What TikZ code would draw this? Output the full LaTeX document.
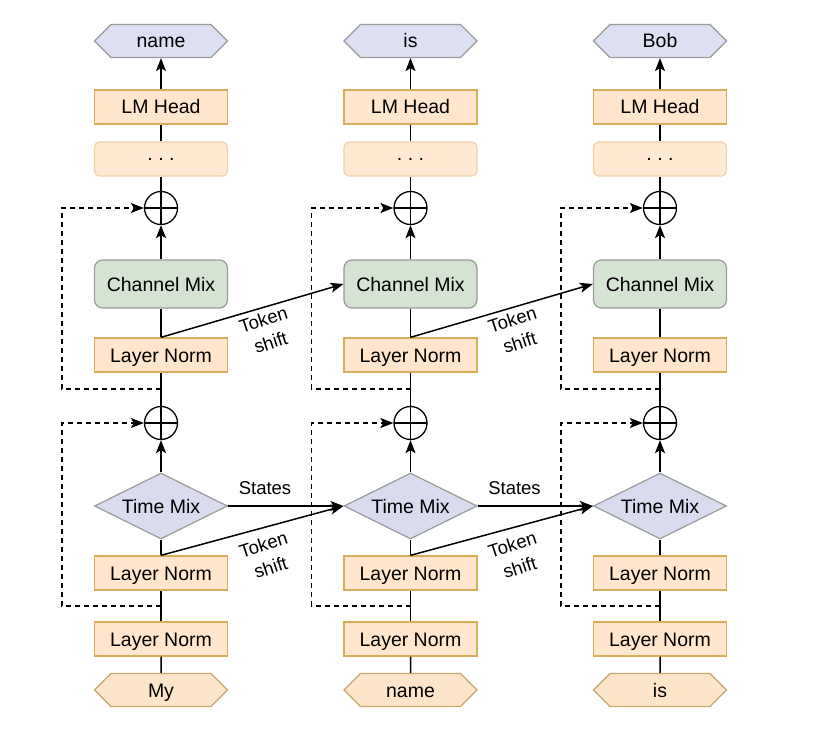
\documentclass[tikz,border=0pt]{standalone}
\usepackage{fontspec}
\setmainfont{Liberation Sans}
\usetikzlibrary{arrows.meta,shapes.geometric,shapes.symbols,calc}

\definecolor{lnfill}{HTML}{FFE6CC}
\definecolor{lnline}{HTML}{D8AE58}
\definecolor{dotfill}{HTML}{FFE9D2}
\definecolor{dotline}{HTML}{F0D2A4}
\definecolor{cmfill}{HTML}{D5E3D3}
\definecolor{tmfill}{HTML}{D9DCEE}
\definecolor{outfill}{HTML}{DDE0F3}
\definecolor{infill}{HTML}{FDE5CA}
\definecolor{shapeline}{HTML}{9A9A9A}

\tikzset{
  every node/.style={font=\fontsize{19.5pt}{22pt}\selectfont, inner sep=0pt,
    text height=17.5pt, text depth=3.5pt},
  lnbox/.style={draw=lnline, fill=lnfill, line width=1.3pt,
    minimum width=133pt, minimum height=34pt},
  dotbox/.style={draw=dotline, fill=dotfill, line width=1.2pt, rounded corners=5pt,
    minimum width=133pt, minimum height=34pt, text height=, text depth=},
  cmbox/.style={draw=shapeline, fill=cmfill, line width=1.2pt, rounded corners=8pt,
    minimum width=133pt, minimum height=48pt},
  tmbox/.style={diamond, aspect=2, draw=shapeline, fill=tmfill, line width=1.2pt,
    minimum width=133pt, minimum height=66pt},
  outhex/.style={signal, signal to=west and east, signal pointer angle=90,
    draw=shapeline, fill=outfill, line width=1.2pt,
    minimum width=133pt, minimum height=33pt},
  inhex/.style={outhex, fill=infill, draw=lnline!70!shapeline},
  plusnode/.style={circle, draw, line width=1.3pt, minimum size=33pt,
    text height=, text depth=,
    path picture={
      \draw[line width=1.3pt] (path picture bounding box.north) -- (path picture bounding box.south);
      \draw[line width=1.3pt] (path picture bounding box.west) -- (path picture bounding box.east);}},
  lbl/.style={font=\fontsize{18.5pt}{24pt}\selectfont, align=center,
    text height=, text depth=},
  link/.style={line width=1.5pt},
  flow/.style={line width=1.5pt, -{Stealth[length=13pt,width=10pt,inset=3pt]}},
  res/.style={line width=1.4pt, dash pattern=on 5pt off 4pt,
    -{Stealth[length=13pt,width=10pt,inset=3pt]}},
}

\begin{document}
\begin{tikzpicture}[x=1pt, y=-1pt]
  \useasboundingbox (0,0) rectangle (819,738);

  % one RWKV column per token
  \foreach \i/\x/\inw/\outw in {1/161/My/name, 2/410.5/name/is, 3/660/is/Bob} {
    \node[inhex]  (in\i)  at (\x,690) {\inw};
    \node[lnbox]  (lna\i) at (\x,639) {Layer Norm};
    \coordinate   (ra\i)  at (\x,606);
    \node[lnbox]  (lnb\i) at (\x,573) {Layer Norm};
    \node[tmbox]  (tm\i)  at (\x,506) {Time Mix};
    \node[plusnode] (pa\i) at (\x,423) {};
    \coordinate   (rb\i)  at (\x,389);
    \node[lnbox]  (lnc\i) at (\x,355) {Layer Norm};
    \node[cmbox]  (cm\i)  at (\x,284) {Channel Mix};
    \node[plusnode] (pb\i) at (\x,208) {};
    \node[dotbox] (dt\i)  at (\x,159) {.\ .\ .};
    \node[lnbox]  (lm\i)  at (\x,107) {LM Head};
    \node[outhex] (out\i) at (\x,41)  {\outw};

    \coordinate (la\i) at (\x-99,500);
    \coordinate (lb\i) at (\x-99,300);

    % main data path
    \draw[link] (in\i) -- (lna\i);
    \draw[link] (lna\i) -- (lnb\i);
    \draw[link] (lnb\i) -- (tm\i);
    \draw[flow] (tm\i) -- (pa\i);
    \draw[link] (pa\i) -- (lnc\i);
    \draw[link] (lnc\i) -- (cm\i);
    \draw[flow] (cm\i) -- (pb\i);
    \draw[link] (pb\i) -- (dt\i);
    \draw[link] (dt\i) -- (lm\i);
    \draw[flow] (lm\i) -- (out\i);

    % residual connections
    \draw[res] (ra\i) -| (la\i) |- (pa\i.west);
    \draw[res] (rb\i) -| (lb\i) |- (pb\i.west);
  }

  % recurrent links between neighbouring tokens
  \foreach \i/\j in {1/2, 2/3} {
    \draw[flow] (tm\i.east) -- (tm\j.west);
    \draw[flow] (lnb\i.north) -- (tm\j.west);
    \draw[flow] (lnc\i.north) -- (cm\j.west);
    \node[lbl] (st\i) at ($(tm\i.east)!0.32!(tm\j.west) + (0,-18)$) {States};
  }
  \node[lbl, rotate=18] (tsa1) at (267,331) {Token\\shift};
  \node[lbl, rotate=18] (tsa2) at (516,331) {Token\\shift};
  \node[lbl, rotate=18] (tsb1) at (267,556) {Token\\shift};
  \node[lbl, rotate=18] (tsb2) at (516,556) {Token\\shift};
\end{tikzpicture}
\end{document}
